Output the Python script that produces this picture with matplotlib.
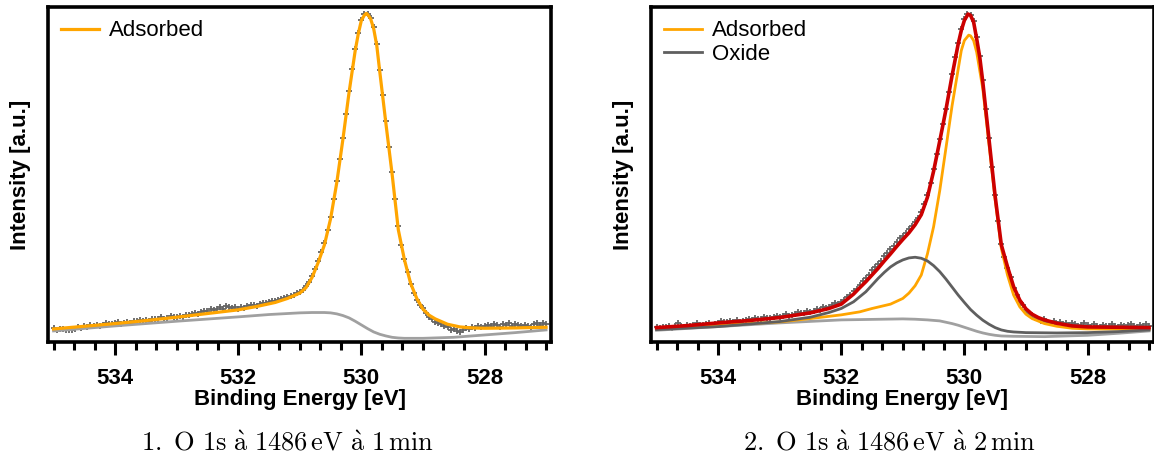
import numpy as np
import matplotlib.pyplot as plt
from matplotlib.ticker import MultipleLocator, AutoMinorLocator, NullLocator

plt.rcParams['font.family'] = ['Liberation Sans', 'DejaVu Sans']
plt.rcParams['mathtext.fontset'] = 'cm'

# Datos medidos (malla de 0.05 eV, 535 -> 527)
energia_datos = np.round(np.linspace(535.0, 527.0, 161), 2)

datos_1min = [
    4.1, 3.6, 4.0, 3.8, 3.5, 3.7, 3.5, 4.0, 4.4, 4.2, 4.9, 4.6, 5.0, 4.8, 5.2, 4.9, 5.1, 5.6, 5.3, 5.5,
    5.6, 5.9, 5.5, 5.8, 6.0, 5.7, 6.2, 6.4, 6.5, 6.2, 6.6, 6.4, 6.8, 7.0, 6.9, 7.4, 7.0, 7.3, 7.9, 7.6,
    7.5, 7.8, 7.6, 8.1, 8.0, 8.3, 8.7, 8.4, 9.0, 9.4, 9.2, 9.8, 9.5, 10.0, 10.4, 9.9, 10.6, 10.3, 10.1, 10.4,
    10.0, 10.5, 10.2, 10.6, 10.9, 11.1, 10.8, 11.4, 11.6, 11.5, 12.0, 12.1, 12.3, 12.4, 12.8, 13.0, 13.4, 13.6, 14.0, 14.5,
    15.0, 15.6, 16.6, 17.9, 19.8, 21.9, 24.3, 26.9, 29.6, 33.3, 37.4, 42.6, 48.2, 54.6, 61.0, 68.2, 75.0, 81.6, 87.4, 92.3,
    96.2, 97.9, 98.0, 96.8, 93.9, 89.0, 81.2, 73.8, 65.9, 58.3, 50.6, 42.7, 34.5, 29.0, 24.8, 21.0, 17.2, 14.6, 12.6, 10.9,
    10.1, 8.6, 7.5, 6.9, 6.0, 5.6, 5.5, 4.9, 4.4, 3.6, 3.9, 3.4, 3.0, 3.6, 4.3, 4.0, 4.6, 4.2, 4.8, 4.5,
    4.9, 5.2, 4.7, 5.3, 5.0, 4.6, 5.4, 5.1, 5.7, 4.9, 5.3, 5.0, 4.7, 5.2, 4.8, 4.6, 5.5, 5.8, 5.2, 5.6, 5.3,
]

datos_2min = [
    4.5, 4.2, 4.6, 4.4, 4.9, 4.3, 4.7, 5.6, 4.8, 4.5, 5.0, 4.7, 5.2, 5.8, 5.1, 5.0, 5.3, 5.6, 5.2, 5.5,
    5.6, 6.4, 5.9, 6.0, 6.3, 6.1, 6.6, 6.0, 6.4, 6.7, 6.9, 6.5, 7.2, 6.8, 7.0, 7.6, 7.3, 7.1, 7.4, 7.8,
    7.5, 7.9, 8.3, 7.8, 8.1, 8.5, 8.9, 8.6, 8.8, 9.4, 9.0, 9.3, 9.8, 9.7, 10.4, 10.2, 10.5, 10.9, 11.5, 11.2,
    11.8, 12.6, 13.5, 13.9, 15.2, 15.8, 17.0, 18.2, 19.2, 20.0, 21.4, 22.4, 23.3, 24.3, 25.6, 26.5, 27.8, 28.8, 29.9, 31.0,
    31.6, 32.5, 33.6, 34.5, 35.8, 37.0, 38.8, 41.2, 44.0, 47.6, 51.5, 56.0, 60.6, 65.0, 69.5, 74.5, 80.0, 85.0, 89.4, 93.3,
    96.3, 98.0, 97.6, 95.9, 91.0, 85.5, 78.1, 69.6, 61.0, 52.3, 43.9, 36.2, 29.3, 25.4, 22.2, 19.3, 16.0, 14.1, 12.0, 10.9,
    9.6, 8.8, 8.0, 7.2, 7.0, 6.4, 6.8, 6.0, 5.7, 6.2, 5.5, 5.9, 5.3, 5.6, 5.2, 5.7, 5.4, 4.9, 5.2, 5.6,
    5.0, 4.6, 5.3, 4.8, 4.5, 5.2, 4.7, 4.9, 5.4, 4.8, 4.6, 5.1, 4.7, 5.0, 5.5, 4.8, 4.6, 5.2, 4.9, 5.3, 4.7,
]

# Ajuste, 1 min (componente adsorbida)
e_ads1 = [535.0, 534.5, 534.0, 533.5, 533.0, 532.5, 532.0, 531.7, 531.4, 531.2, 531.0, 530.9, 530.8,
          530.7, 530.6, 530.5, 530.4, 530.3, 530.2, 530.1, 530.05, 530.0, 529.95, 529.92, 529.9, 529.85,
          529.8, 529.75, 529.7, 529.6, 529.5, 529.4, 529.3, 529.2, 529.1, 529.0, 528.9, 528.8, 528.6,
          528.4, 528.2, 528.0, 527.5, 527.0]
ads1 = [3.9, 4.7, 5.5, 6.4, 7.4, 8.5, 9.6, 10.6, 11.8, 13.0, 14.6, 16.2, 19.3,
        23.8, 29.0, 36.8, 47.5, 60.5, 74.5, 87.0, 92.0, 96.0, 97.6, 98.1, 97.8, 96.5,
        93.5, 88.5, 80.5, 65.0, 50.0, 33.5, 24.5, 17.5, 13.0, 9.8, 8.0, 6.9, 5.3,
        4.5, 4.2, 4.1, 4.2, 4.4]

e_fond1 = [535.0, 534.0, 533.0, 532.0, 531.5, 531.0, 530.8, 530.6, 530.5, 530.4, 530.3, 530.2,
           530.1, 530.0, 529.9, 529.8, 529.7, 529.6, 529.5, 529.4, 529.3, 529.0, 528.5, 528.0,
           527.5, 527.0]
fond1 = [3.3, 4.8, 6.2, 7.5, 8.2, 8.7, 8.8, 8.8, 8.7, 8.4, 7.9, 7.2,
         6.2, 5.1, 4.0, 3.0, 2.3, 1.8, 1.4, 1.2, 1.1, 1.1, 1.4, 2.1,
         2.8, 3.6]

# Ajuste, 2 min
e_tot2 = [535.0, 534.5, 534.0, 533.5, 533.0, 532.5, 532.2, 532.0, 531.9, 531.8, 531.7, 531.6, 531.5,
          531.4, 531.3, 531.2, 531.1, 531.0, 530.9, 530.8, 530.7, 530.6, 530.5, 530.4, 530.3, 530.2,
          530.1, 530.05, 530.0, 529.94, 529.9, 529.85, 529.8, 529.75, 529.7, 529.6, 529.5, 529.4,
          529.3, 529.2, 529.1, 529.0, 528.9, 528.8, 528.7, 528.5, 528.25, 528.0, 527.5, 527.0]
tot2 = [4.3, 4.9, 5.7, 6.4, 7.3, 8.7, 10.0, 11.3, 12.8, 14.3, 16.2, 18.0, 20.0,
        22.0, 24.2, 26.3, 28.5, 30.6, 32.6, 35.0, 38.0, 43.2, 51.0, 60.0, 69.3, 79.5,
        89.0, 93.0, 96.0, 97.9, 97.5, 95.5, 90.5, 85.0, 77.5, 60.5, 43.5, 29.0,
        22.5, 16.5, 12.5, 9.9, 8.3, 7.3, 6.6, 5.6, 4.8, 4.5, 4.4, 4.3]

e_ads2 = [535.0, 534.0, 533.0, 532.5, 532.0, 531.7, 531.5, 531.2, 531.0, 530.9, 530.8, 530.7, 530.6,
          530.5, 530.4, 530.3, 530.2, 530.1, 530.05, 530.0, 529.93, 529.9, 529.85, 529.8, 529.7,
          529.6, 529.5, 529.4, 529.3, 529.2, 529.1, 529.0, 528.9, 528.7, 528.5, 528.25, 528.0, 527.0]
ads2 = [4.0, 5.0, 6.0, 7.0, 8.1, 9.0, 10.0, 11.3, 13.0, 14.6, 16.8, 20.0, 26.3,
        34.4, 45.2, 57.8, 70.5, 81.5, 87.0, 90.0, 91.6, 91.4, 90.0, 86.5, 75.5,
        59.0, 42.5, 28.0, 20.0, 14.0, 10.5, 8.3, 7.0, 5.5, 4.7, 4.1, 3.9, 3.8]

e_oxi2 = [535.0, 534.0, 533.0, 532.5, 532.2, 532.0, 531.8, 531.6, 531.4, 531.3, 531.2, 531.1, 531.0,
          530.9, 530.8, 530.7, 530.6, 530.5, 530.4, 530.3, 530.2, 530.1, 530.0, 529.9, 529.8, 529.7,
          529.6, 529.5, 529.4, 529.3, 529.2, 529.0, 528.5, 528.0, 527.5, 527.0]
oxi2 = [3.7, 4.6, 6.1, 7.4, 8.8, 10.0, 12.0, 15.0, 19.0, 20.8, 22.4, 23.6, 24.5,
        25.1, 25.3, 25.0, 24.2, 22.8, 21.0, 18.8, 16.4, 14.0, 11.8, 9.7, 8.0, 6.5,
        5.3, 4.3, 3.6, 3.2, 3.0, 2.8, 2.7, 2.8, 3.1, 3.6]

e_fond2 = [535.0, 534.0, 533.0, 532.0, 531.0, 530.8, 530.6, 530.4, 530.3, 530.2, 530.1, 530.0,
           529.9, 529.8, 529.7, 529.6, 529.5, 529.4, 529.2, 528.7, 528.0, 527.5, 527.0]
fond2 = [3.5, 4.6, 5.7, 6.6, 6.9, 6.8, 6.6, 6.3, 5.9, 5.5, 5.0, 4.4,
         3.8, 3.2, 2.7, 2.3, 2.0, 1.8, 1.7, 1.6, 2.0, 2.6, 3.3]

titulos = [r"$\mathrm{1.\ O\ 1s\ \grave{a}\ 1486\,eV\ \grave{a}\ 1\,min}$",
           r"$\mathrm{2.\ O\ 1s\ \grave{a}\ 1486\,eV\ \grave{a}\ 2\,min}$"]

naranja = '#FFA500'
rojo = '#CC0000'
gris_osc = '#5f5f5f'
gris_cla = '#a0a0a0'
gris_datos = '#666666'

fig = plt.figure(figsize=(11.54, 4.61), dpi=100)
ax1 = fig.add_axes([48 / 1154, 1 - 342 / 461, 503 / 1154, 335 / 461])
ax2 = fig.add_axes([651 / 1154, 1 - 342 / 461, 503 / 1154, 335 / 461])

# Panel 1
ax1.plot(energia_datos, datos_1min, ls='none', marker='+', ms=4.5, mew=1.3, color=gris_datos, zorder=2)
ax1.plot(e_fond1, fond1, color=gris_cla, lw=2.0, zorder=3)
ax1.plot(e_ads1, ads1, color=naranja, lw=2.3, zorder=4, label='Adsorbed')

# Panel 2
ax2.plot(energia_datos, datos_2min, ls='none', marker='+', ms=4.5, mew=1.3, color=gris_datos, zorder=2)
ax2.plot(e_fond2, fond2, color=gris_cla, lw=2.0, zorder=3)
ax2.plot(e_ads2, ads2, color=naranja, lw=2.0, zorder=4, label='Adsorbed')
ax2.plot(e_oxi2, oxi2, color=gris_osc, lw=2.0, zorder=4, label='Oxide')
ax2.plot(e_tot2, tot2, color=rojo, lw=2.6, zorder=5)

for ax, titulo, xc in zip([ax1, ax2], titulos, [287, 889]):
    ax.set_xlim(535.09, 526.92)
    ax.set_ylim(0, 100)
    ax.xaxis.set_major_locator(MultipleLocator(2))
    ax.xaxis.set_minor_locator(AutoMinorLocator(6))
    ax.yaxis.set_major_locator(NullLocator())
    ax.tick_params(axis='x', which='major', direction='out', length=9, width=2.2, pad=10,
                   labelsize=16)
    ax.tick_params(axis='x', which='minor', direction='out', length=6, width=2.2)
    for lab in ax.get_xticklabels():
        lab.set_fontweight('bold')
    for s in ax.spines.values():
        s.set_linewidth(2.6)
    ax.set_xlabel('Binding Energy [eV]', fontsize=16, fontweight='bold', labelpad=0)
    ax.set_ylabel('Intensity [a.u.]', fontsize=16, fontweight='bold', labelpad=12)
    ax.legend(loc='upper left', frameon=False, fontsize=16, handlelength=1.7,
              handletextpad=0.45, borderaxespad=0.2, borderpad=0.4, labelspacing=0.1)
    fig.text(xc / 1154, 1 - 443 / 461, titulo, fontsize=19, ha='center', va='center')

fig.savefig('out.png', dpi=100)
plt.close(fig)
